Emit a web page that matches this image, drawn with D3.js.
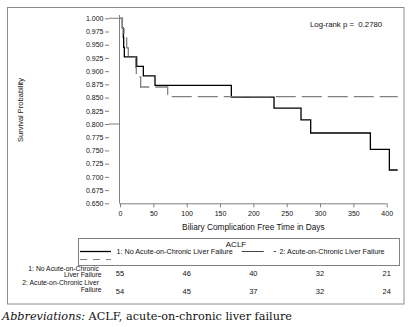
<!DOCTYPE html>
<html>
<head>
<meta charset="utf-8">
<script src="https://cdn.jsdelivr.net/npm/d3@7"></script>
<style>
  html, body { margin: 0; padding: 0; background: #fff; }
  svg { display: block; }
  text { font-family: "Liberation Sans", Arial, sans-serif; fill: #111; white-space: pre; }
</style>
</head>
<body>
<svg id="chart" width="417" height="327"></svg>
<script>
// ---- data ----
const groupNames = ["1: No Acute-on-Chronic Liver Failure", "2: Acute-on-Chronic Liver Failure"];
const time1 = [0, 3.5, 5, 5.5, 6.5, 25, 35, 52.5, 167, 231, 271.5, 286, 375.5, 404, 416.5];
const surv1 = [1, 0.982, 0.964, 0.945, 0.927, 0.909, 0.891, 0.873, 0.851, 0.830, 0.808, 0.783, 0.752, 0.713, 0.713];
const time2 = [0, 3.5, 6, 10, 12.5, 23.5, 24.5, 31, 71.5, 416.5];
const surv2 = [1, 0.981, 0.963, 0.944, 0.926, 0.907, 0.889, 0.870, 0.852, 0.852];
const yTicks = [0.650, 0.675, 0.700, 0.725, 0.750, 0.775, 0.800, 0.825, 0.850, 0.875, 0.900, 0.925, 0.950, 0.975, 1.000];
const xTicks = [0, 50, 100, 150, 200, 250, 300, 350, 400];
const riskTimes = [0, 100, 200, 300, 400];
const risk1 = [55, 46, 40, 32, 21];
const risk2 = [54, 45, 37, 32, 24];
const riskLabels = [["1: No Acute-on-Chronic", "Liver Failure"], ["2: Acute-on-Chronic Liver", "Failure"]];
const pText = "Log-rank p =  0.2780";

const svg = d3.select("#chart");
const x = d3.scaleLinear().domain([0, 400]).range([120, 386.7]);
const y = d3.scaleLinear().domain([0.65, 1.0]).range([203.3, 18.3]);
const gray = "#808080";

// outer frame
svg.append("rect").attr("x", 7.5).attr("y", 7.5).attr("width", 396.5).attr("height", 296.5)
  .attr("fill", "none").attr("stroke", "#8c8c8c").attr("stroke-width", 1);

// y ticks (offset from axis line)
const yAxis = d3.axisLeft(y).tickValues(yTicks).tickSize(4).tickFormat(d3.format(".3f"));
const gy = svg.append("g").attr("transform", "translate(109,0)").call(yAxis);
gy.select(".domain").remove();
gy.selectAll(".tick line").attr("stroke", gray);
gy.selectAll(".tick text").attr("x", -5.5).attr("font-size", 7).style("font-family", "Liberation Sans, Arial, sans-serif").attr("fill", "#111");
// connectors for 1.000 and 0.800
[1.0, 0.8].forEach(v => {
  svg.append("line").attr("x1", 109).attr("x2", 119.5).attr("y1", y(v)).attr("y2", y(v)).attr("stroke", gray);
});
// axis lines
svg.append("line").attr("x1", 119.5).attr("x2", 119.5).attr("y1", 15).attr("y2", y(0.65)).attr("stroke", gray);
const xAxis = d3.axisBottom(x).tickValues(xTicks).tickSize(4).tickFormat(d3.format("d"));
const gx = svg.append("g").attr("transform", `translate(0,${y(0.65)})`).call(xAxis);
gx.select(".domain").attr("d", `M119.5,0.5H${x(400)}`).attr("stroke", gray);
gx.selectAll(".tick line").attr("stroke", gray);
gx.selectAll(".tick text").attr("y", 8).attr("font-size", 7).style("font-family", "Liberation Sans, Arial, sans-serif").attr("fill", "#111");

// axis titles
svg.append("text").attr("x", x(200)).attr("y", 230).attr("text-anchor", "middle").attr("font-size", 8.3)
  .text("Biliary Complication Free Time in Days");
svg.append("text").attr("transform", `translate(23,${110}) rotate(-90)`).attr("text-anchor", "middle").attr("font-size", 7.5)
  .text("Survival Probability");

// curves
const line = d3.line().x(d => x(d[0])).y(d => y(d[1])).curve(d3.curveStepAfter);
svg.append("path").datum(d3.zip(time1, surv1)).attr("d", line)
  .attr("fill", "none").attr("stroke", "#000").attr("stroke-width", 1.3);
svg.append("path").datum(d3.zip(time2, surv2)).attr("d", line)
  .attr("fill", "none").attr("stroke", gray).attr("stroke-width", 1.3).attr("stroke-dasharray", "20,6");

// log-rank text
svg.append("text").attr("x", 310).attr("y", 26.5).attr("font-size", 7.8).text(pText);

// legend
svg.append("rect").attr("x", 78.5).attr("y", 238.5).attr("width", 321).attr("height", 27)
  .attr("fill", "none").attr("stroke", gray);
svg.append("text").attr("x", 236).attr("y", 246.5).attr("text-anchor", "middle").attr("font-size", 8).text("ACLF");
svg.append("line").attr("x1", 80).attr("x2", 111).attr("y1", 251.5).attr("y2", 251.5).attr("stroke", "#000").attr("stroke-width", 1.3);
svg.append("line").attr("x1", 80).attr("x2", 111).attr("y1", 259.5).attr("y2", 259.5).attr("stroke", gray).attr("stroke-width", 1).attr("stroke-dasharray", "7,6");
svg.append("text").attr("x", 116.5).attr("y", 254).attr("font-size", 7.2).text(groupNames[0]);
svg.append("line").attr("x1", 241.7).attr("x2", 276).attr("y1", 251.5).attr("y2", 251.5).attr("stroke", "#444").attr("stroke-width", 1).attr("stroke-dasharray", "22,10");
svg.append("text").attr("x", 279.5).attr("y", 254).attr("font-size", 7.2).text(groupNames[1]);

// at-risk table
const rowLabelY = [[270.5, 277], [284.5, 291.5]];
riskLabels.forEach((lab, i) => {
  lab.forEach((t, j) => {
    svg.append("text").attr("x", j === 0 ? 99 : 101.5).attr("y", rowLabelY[i][j]).attr("text-anchor", "end")
      .attr("font-size", 6.8).text(t);
  });
});
[risk1, risk2].forEach((arr, i) => {
  svg.selectAll(null).data(d3.zip(riskTimes, arr)).enter().append("text")
    .attr("x", d => x(d[0])).attr("y", i === 0 ? 275.5 : 294)
    .attr("text-anchor", "middle").attr("font-size", 7.5).text(d => d[1]);
});

// caption
const cap = svg.append("text").attr("x", 2).attr("y", 319.5).attr("font-size", 11)
  .attr("textLength", 290).attr("lengthAdjust", "spacingAndGlyphs")
  .style("font-family", "'DejaVu Serif', 'Liberation Serif', serif").attr("fill", "#222");
cap.append("tspan").attr("font-style", "italic").text("Abbreviations:");
cap.append("tspan").text(" ACLF, acute-on-chronic liver failure");
</script>
</body>
</html>
